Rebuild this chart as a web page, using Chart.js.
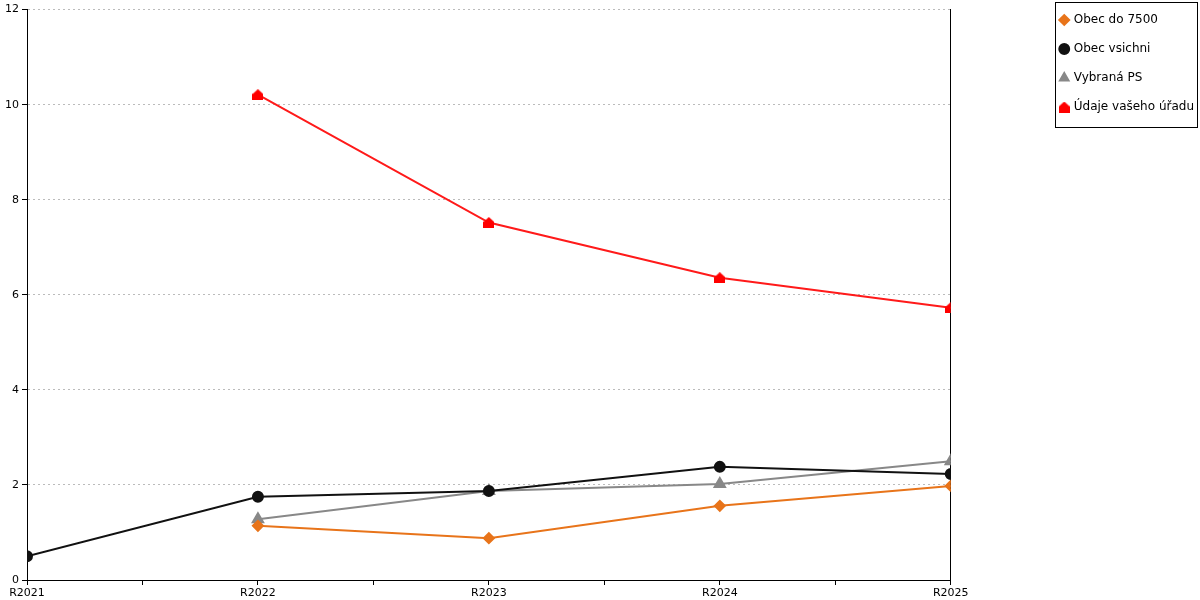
<!DOCTYPE html>
<html>
<head>
<meta charset="utf-8">
<script src="https://cdn.jsdelivr.net/npm/chart.js@4/dist/chart.umd.min.js"></script>
<style>
  html, body { margin: 0; padding: 0; background: #fff; }
  #wrap { width: 1200px; height: 600px; }
</style>
</head>
<body>
<div id="wrap"><canvas id="graf"></canvas></div>
<script>
const roky = ['R2021', 'R2022', 'R2023', 'R2024', 'R2025'];
const obecDo7500 = [null, 1.14, 0.88, 1.56, 1.98];
const obecVsichni = [0.50, 1.75, 1.87, 2.38, 2.23];
const vybranaPS = [null, 1.28, 1.87, 2.02, 2.50];
const udajeUradu = [null, 10.21, 7.52, 6.36, 5.73];
const yTicks = [0, 2, 4, 6, 8, 10, 12];

// znacka "domecek" pro udaje uradu
function znackaDomecek(barva) {
    const c = document.createElement('canvas');
    c.width = 11;
    c.height = 11;
    const g = c.getContext('2d');
    g.fillStyle = barva;
    g.beginPath();
    g.moveTo(5.5, 0);
    g.lineTo(11, 5);
    g.lineTo(11, 11);
    g.lineTo(0, 11);
    g.lineTo(0, 5);
    g.closePath();
    g.fill();
    return c;
}

function body(hodnoty) {
    return hodnoty.map((v, i) => ({ x: i, y: v }));
}

function rada(label, hodnoty, barva, styl, r) {
    return {
        label,
        data: body(hodnoty),
        borderColor: barva,
        backgroundColor: barva,
        pointBackgroundColor: barva,
        pointBorderColor: barva,
        pointStyle: styl,
        pointRadius: r,
        pointHoverRadius: r,
        borderWidth: 2,
        tension: 0,
        spanGaps: false
    };
}

// posun legendy a ramecek kolem ni
const ramecekLegendy = {
    id: 'ramecekLegendy',
    afterLayout(chart) {
        const l = chart.legend;
        if (!l) return;
        l.left += 7;
        l.right += 7;
        l.top -= 7;
        l.bottom -= 7;
    },
    afterDraw(chart) {
        const ctx = chart.ctx;
        ctx.save();
        ctx.strokeStyle = '#000';
        ctx.lineWidth = 1;
        ctx.strokeRect(1055.5, 2.5, 142, 125);
        ctx.restore();
    }
};

const ctx = document.getElementById('graf').getContext('2d');
new Chart(ctx, {
    type: 'line',
    data: {
        datasets: [
            rada('Obec do 7500', obecDo7500, '#e8741a', 'rectRot', 5),
            rada('Obec vsichni', obecVsichni, '#111111', 'circle', 5),
            rada('Vybraná PS', vybranaPS, '#888888', 'triangle', 6),
            rada('Údaje vašeho úřadu', udajeUradu, '#ff1a1a', znackaDomecek('#ff0000'), 5)
        ]
    },
    options: {
        responsive: true,
        maintainAspectRatio: false,
        animation: false,
        devicePixelRatio: 1,
        layout: { padding: { top: 4, right: 3, left: 0, bottom: 0 } },
        plugins: {
            legend: {
                position: 'right',
                align: 'start',
                labels: {
                    usePointStyle: true,
                    boxWidth: 7,
                    boxHeight: 7,
                    padding: 17,
                    color: '#000',
                    font: { family: 'DejaVu Sans', size: 12 }
                }
            },
            tooltip: { enabled: false }
        },
        scales: {
            x: {
                type: 'linear',
                min: 0,
                max: roky.length - 1,
                afterFit: s => { s.height = 20; },
                ticks: {
                    stepSize: 0.5,
                    autoSkip: false,
                    maxRotation: 0,
                    padding: 2,
                    color: '#000',
                    font: { family: 'DejaVu Sans', size: 11 },
                    callback: v => Number.isInteger(v) ? roky[v] : ''
                },
                grid: {
                    drawOnChartArea: false,
                    drawTicks: true,
                    tickLength: 5,
                    tickColor: '#000'
                },
                border: { color: '#000', width: 1 }
            },
            y: {
                min: 0,
                max: 12,
                afterBuildTicks: s => { s.ticks = yTicks.map(v => ({ value: v })); },
                afterFit: s => { s.width = 27; },
                ticks: {
                    padding: 3,
                    color: '#000',
                    font: { family: 'DejaVu Sans', size: 11 }
                },
                grid: {
                    color: '#bbbbbb',
                    tickLength: 5,
                    tickColor: '#000'
                },
                border: { color: '#000', width: 1, dash: [2, 3] }
            },
            yR: {
                position: 'right',
                min: 0,
                max: 12,
                afterFit: s => { s.width = 86; },
                ticks: { display: false },
                grid: { drawOnChartArea: false, drawTicks: false },
                border: { color: '#000', width: 1 }
            }
        }
    },
    plugins: [ramecekLegendy]
});
</script>
</body>
</html>
